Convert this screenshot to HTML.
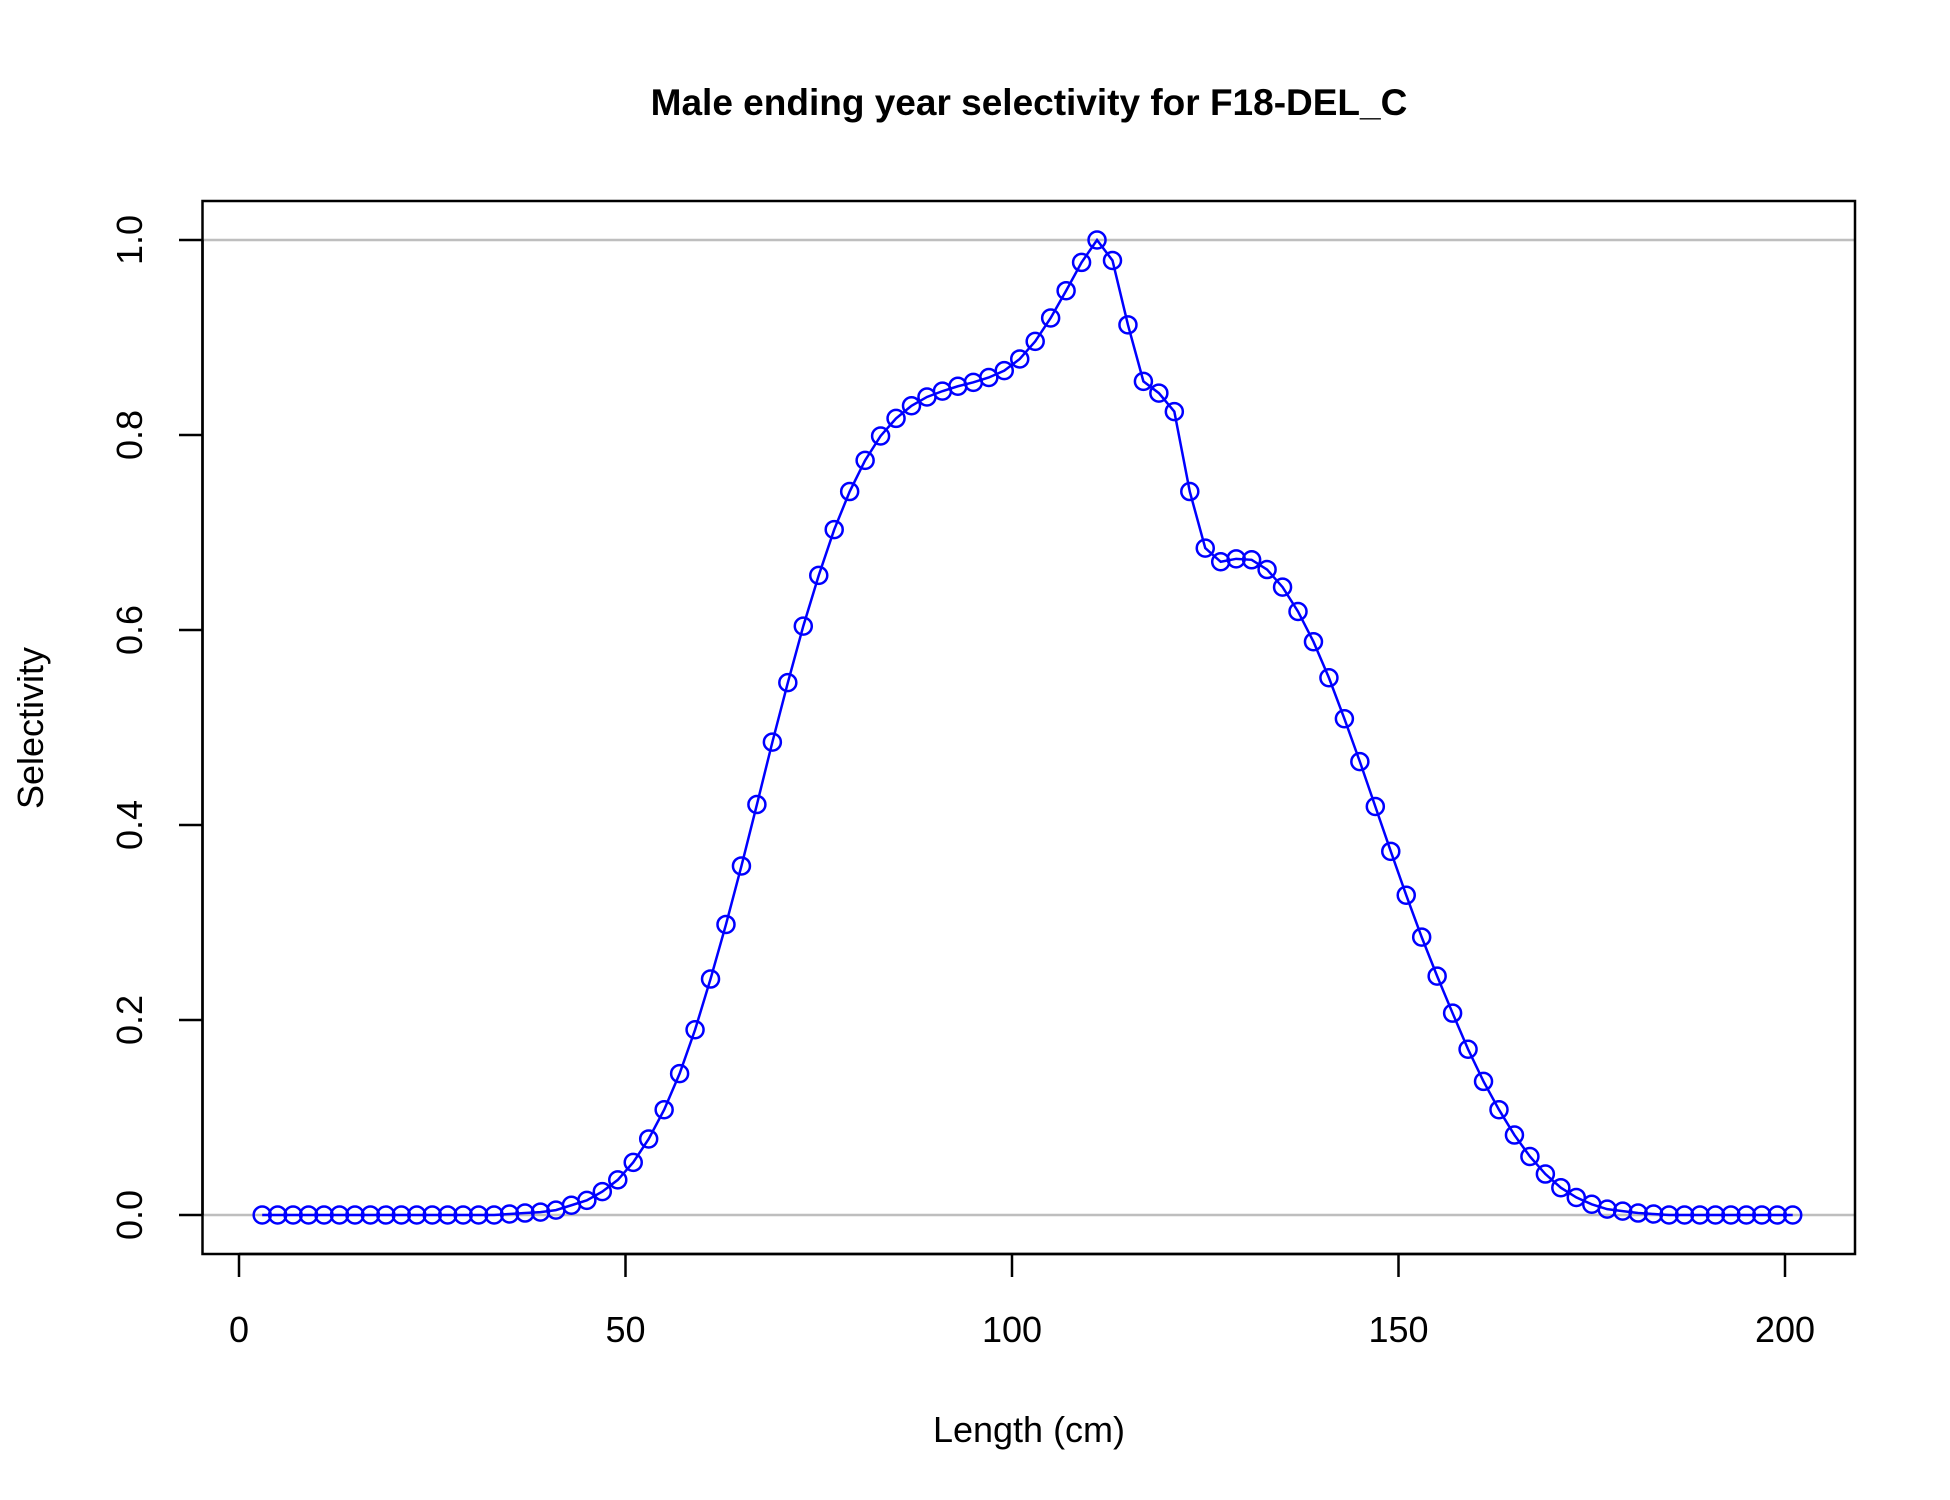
<!DOCTYPE html>
<html><head><meta charset="utf-8"><style>
body{margin:0;background:#fff}
svg{display:block;font-family:"Liberation Sans",Arial,sans-serif}
</style></head><body>
<svg id="chart" width="1950" height="1500" viewBox="0 0 1950 1500">
<text x="1029" y="115" text-anchor="middle" font-size="37" font-weight="bold">Male ending year selectivity for F18-DEL_C</text>
<g id="grid"></g>
<rect x="202.5" y="201" width="1652.5" height="1053" fill="none" stroke="#000" stroke-width="2.5"/>
<g id="xaxis"></g>
<g id="yaxis"></g>
<g id="series"></g>
<text x="1029" y="1442" text-anchor="middle" font-size="36">Length (cm)</text>
<text transform="translate(43,728) rotate(-90)" text-anchor="middle" font-size="36">Selectivity</text>
</svg>
<script>
const lengths = [];
for (let v = 3; v <= 201; v += 2) lengths.push(v);
const selectivity = [0,0,0,0,0,0,0,0,0,0,0,0,0,0,0,0,
0.001,0.002,0.003,0.005,0.01,0.015,0.024,0.036,0.054,0.078,0.108,0.145,0.19,0.242,0.298,0.358,0.421,0.485,0.546,0.604,0.656,0.703,0.742,0.774,0.799,0.817,0.83,0.839,0.845,0.85,0.854,0.859,0.866,0.878,0.896,0.92,0.948,0.977,1.0,0.979,0.913,0.855,0.843,0.824,0.742,0.684,0.67,0.673,0.672,0.662,0.644,0.619,0.588,0.551,0.509,0.465,0.419,0.373,0.328,0.285,0.245,0.207,0.17,0.137,0.108,0.082,0.06,0.042,0.028,0.018,0.011,0.006,0.004,0.002,0.001,0,0,0,0,0,0,0,0,0];
const xTicks = [0,50,100,150,200];
const yTicks = [0,0.2,0.4,0.6,0.8,1.0];
const yTickLabels = ["0.0","0.2","0.4","0.6","0.8","1.0"];
const refLines = [0,1];

const NS="http://www.w3.org/2000/svg";
const xs = v => 239 + v*(1785-239)/200;
const ys = v => 1215 - v*(1215-240);
function mk(tag, attrs, parent){const e=document.createElementNS(NS,tag);for(const k in attrs)e.setAttribute(k,attrs[k]);parent.appendChild(e);return e;}
const grid=document.getElementById('grid'), xa=document.getElementById('xaxis'), ya=document.getElementById('yaxis'), ser=document.getElementById('series');
refLines.forEach(r=>{
  const l=mk('line',{x1:202.5,x2:1855,y1:ys(r),y2:ys(r),stroke:'#bebebe','stroke-width':2.5},grid);
  
  
});
mk('line',{x1:xs(xTicks[0]),x2:xs(xTicks[xTicks.length-1]),y1:1254,y2:1254,stroke:'#000','stroke-width':2.5},xa);
xTicks.forEach(t=>{
  mk('line',{x1:xs(t),x2:xs(t),y1:1254,y2:1277,stroke:'#000','stroke-width':2.5},xa);
  const tx=mk('text',{x:xs(t),y:1342,'text-anchor':'middle','font-size':36},xa);
  tx.textContent=t;
  
  
});
mk('line',{x1:202.5,x2:202.5,y1:ys(yTicks[0]),y2:ys(yTicks[yTicks.length-1]),stroke:'#000','stroke-width':2.5},ya);
yTicks.forEach((t,i)=>{
  mk('line',{x1:179,x2:202.5,y1:ys(t),y2:ys(t),stroke:'#000','stroke-width':2.5},ya);
  const tx=mk('text',{transform:`translate(142,${ys(t)}) rotate(-90)`,'text-anchor':'middle','font-size':36},ya);
  tx.textContent=yTickLabels[i];
  
  
});
const pts=lengths.map((v,i)=>xs(v)+','+ys(selectivity[i])).join(' ');
const pl=mk('polyline',{points:pts,fill:'none',stroke:'#0000ff','stroke-width':2.5},ser);


lengths.forEach((v,i)=>{
  const c=mk('circle',{cx:xs(v),cy:ys(selectivity[i]),r:8.5,fill:'none',stroke:'#0000ff','stroke-width':2.5},ser);
  
  
});
</script>
</body></html>
